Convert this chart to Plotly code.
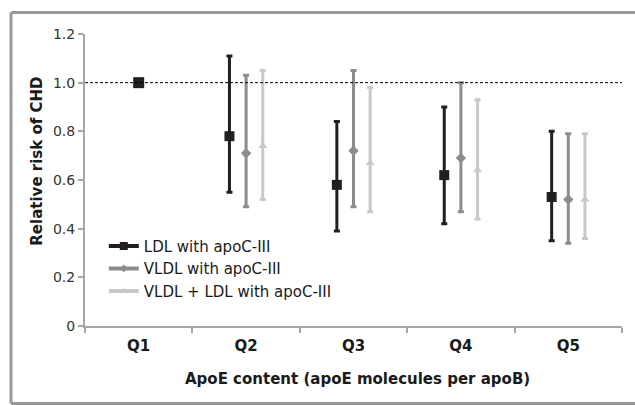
import plotly.graph_objects as go

categories = ["Q1", "Q2", "Q3", "Q4", "Q5"]
series_names = ["LDL with apoC-III", "VLDL with apoC-III", "VLDL + LDL with apoC-III"]

# Q1 is the reference category (RR = 1.0)
ref_value = [1.0]

# Q2..Q5 estimates with 95% CI
ldl_rr = [0.78, 0.58, 0.62, 0.53]
ldl_hi = [1.11, 0.84, 0.90, 0.80]
ldl_lo = [0.55, 0.39, 0.42, 0.35]

vldl_rr = [0.71, 0.72, 0.69, 0.52]
vldl_hi = [1.03, 1.05, 1.00, 0.79]
vldl_lo = [0.49, 0.49, 0.47, 0.34]

both_rr = [0.74, 0.67, 0.64, 0.52]
both_hi = [1.05, 0.98, 0.93, 0.79]
both_lo = [0.52, 0.47, 0.44, 0.36]

y_tickvals = [0, 0.2, 0.4, 0.6, 0.8, 1.0, 1.2]
y_ticktext = ["0", "0.2", "0.4", "0.6", "0.8", "1.0", "1.2"]

colors = ["#231f20", "#8c8c8c", "#c8c8c8"]
symbols = ["square", "diamond", "triangle-up"]
sizes = [10, 8, 8]
offsets = [-0.155, 0.0, 0.155]
FONT = "DejaVu Sans"

fig = go.Figure()

series = [(ldl_rr, ldl_hi, ldl_lo), (vldl_rr, vldl_hi, vldl_lo), (both_rr, both_hi, both_lo)]
idx = list(range(len(categories)))
for k, (rr, hi, lo) in enumerate(series):
    xs = [i + offsets[k] for i in idx[1:]]
    fig.add_trace(go.Scatter(
        x=xs, y=rr, mode="markers", showlegend=False,
        marker=dict(symbol=symbols[k], size=sizes[k], color=colors[k]),
        error_y=dict(type="data", symmetric=False,
                     array=[h - r for h, r in zip(hi, rr)],
                     arrayminus=[r - l for r, l in zip(rr, lo)],
                     color=colors[k], thickness=3, width=3),
    ))

# reference point Q1
fig.add_trace(go.Scatter(
    x=[idx[0]], y=ref_value, mode="markers", showlegend=False,
    marker=dict(symbol="square", size=11, color=colors[0]),
))

# legend entries
for k in range(3):
    fig.add_trace(go.Scatter(
        x=[None], y=[None], mode="lines+markers", name=series_names[k],
        line=dict(color=colors[k], width=4),
        marker=dict(symbol=symbols[k], size=sizes[k] - 2, color=colors[k]),
    ))

fig.add_shape(type="line", xref="paper", yref="y", x0=0, x1=1, y0=1.0, y1=1.0,
              line=dict(color="#000000", width=1, dash="3px,2px"))

# outer frame (left, top, bottom edges; right edge lies beyond the canvas)
frame = dict(color="#999999", width=3)
FX0, FX1, FY0, FY1 = -0.1378, 1.05, -0.265, 1.0735
fig.add_shape(type="line", xref="paper", yref="paper", x0=FX0, x1=FX1, y0=FY1, y1=FY1, line=frame)
fig.add_shape(type="line", xref="paper", yref="paper", x0=FX0, x1=FX1, y0=FY0, y1=FY0, line=frame)
fig.add_shape(type="line", xref="paper", yref="paper", x0=FX0, x1=FX0, y0=FY0, y1=FY1, line=frame)

fig.add_annotation(text="<b>Relative risk of CHD</b>", textangle=-90,
                   xref="paper", yref="paper", x=-0.09, y=0.565,
                   xanchor="center", yanchor="middle",
                   showarrow=False, font=dict(family=FONT, size=15, color="#1a1a1a"))
fig.add_annotation(text="<b>ApoE content (apoE molecules per apoB)</b>",
                   xref="paper", yref="paper", x=0.507, y=-0.183,
                   xanchor="center", yanchor="middle",
                   showarrow=False, font=dict(family=FONT, size=15, color="#1a1a1a"))

fig.update_layout(
    width=635, height=405,
    margin=dict(l=85, r=13, t=34, b=79),
    paper_bgcolor="white", plot_bgcolor="white",
    font=dict(family=FONT, size=14, color="#333333"),
    legend=dict(x=0.035, y=0.33, xanchor="left", yanchor="top",
                bgcolor="rgba(0,0,0,0)", font=dict(family=FONT, size=15, color="#1a1a1a"),
                tracegroupgap=0, itemwidth=30),
    xaxis=dict(range=[-0.5, 4.5], tickvals=idx, ticktext=["<b>%s</b>" % c for c in categories],
               ticks="", showgrid=False, zeroline=False,
               showline=True, linecolor="#a6a6a6", linewidth=2,
               tickfont=dict(family=FONT, size=15, color="#1a1a1a"),
               ticklabelstandoff=5,
               minor=dict(tickvals=[i - 0.5 for i in idx] + [idx[-1] + 0.5],
                          ticks="outside", ticklen=5, tickcolor="#a6a6a6", tickwidth=2)),
    yaxis=dict(range=[0, 1.2], tickvals=y_tickvals, ticktext=y_ticktext,
               ticks="outside", ticklen=5, tickcolor="#a6a6a6", tickwidth=2,
               showgrid=False, zeroline=False,
               showline=True, linecolor="#a6a6a6", linewidth=2,
               tickfont=dict(family=FONT, size=14, color="#333333")),
)

fig.write_html("out.html", config={"displayModeBar": False},
               post_script=("document.documentElement.style.overflow='hidden';"
                            "document.body.style.margin='0';document.body.style.overflow='hidden';"))
